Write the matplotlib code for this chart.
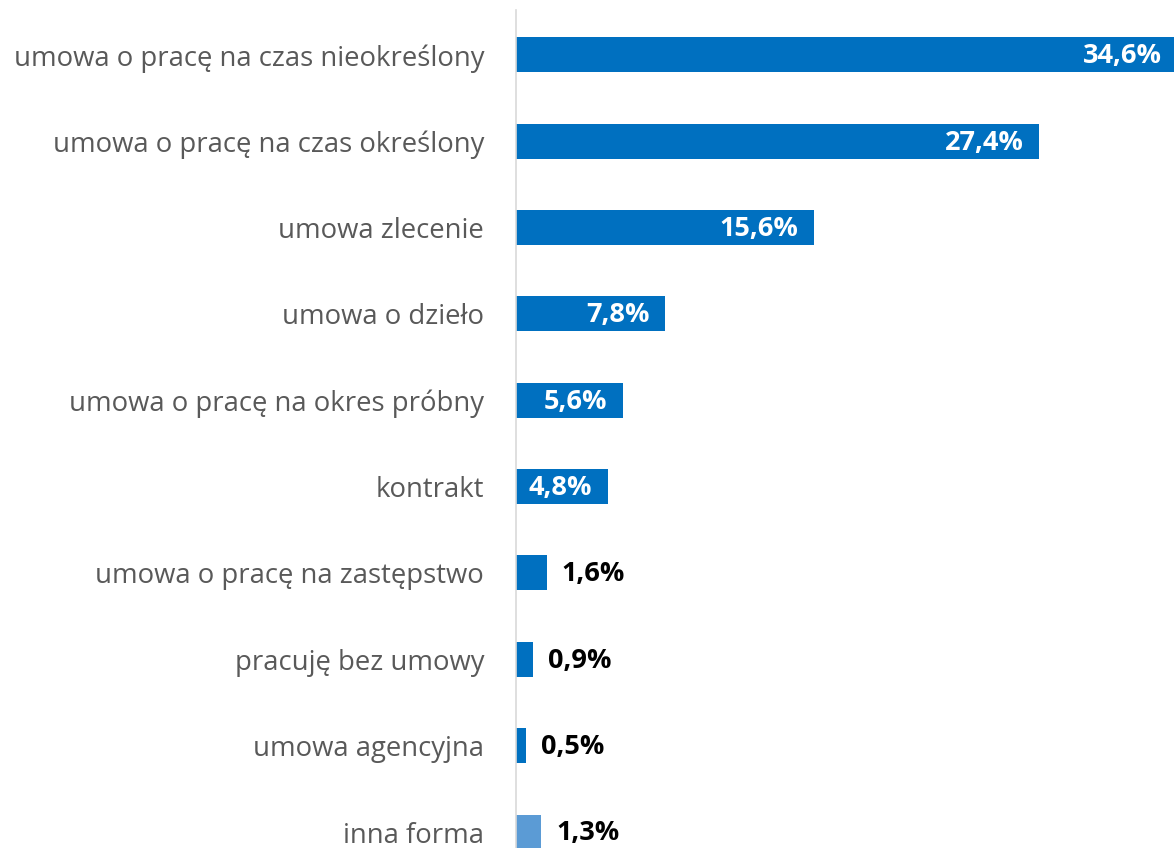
import matplotlib
matplotlib.use("Agg")
import matplotlib.pyplot as plt

categories = [
    "umowa o pracę na czas nieokreślony",
    "umowa o pracę na czas określony",
    "umowa zlecenie",
    "umowa o dzieło",
    "umowa o pracę na okres próbny",
    "kontrakt",
    "umowa o pracę na zastępstwo",
    "pracuję bez umowy",
    "umowa agencyjna",
    "inna forma",
]
values = [34.6, 27.4, 15.6, 7.8, 5.6, 4.8, 1.6, 0.9, 0.5, 1.3]
labels = ["34,6%", "27,4%", "15,6%", "7,8%", "5,6%", "4,8%", "1,6%", "0,9%", "0,5%", "1,3%"]
colors = ["#0070C0"] * 9 + ["#5B9BD5"]

plt.rcParams["font.family"] = ["Open Sans", "DejaVu Sans"]

fig = plt.figure(figsize=(11.74, 8.48), dpi=100)
ax = fig.add_axes([516 / 1174, 0, 1 - 516 / 1174, (848 - 10) / 848])

y = list(range(len(categories)))
ax.barh(y, values, height=0.405, color=colors, zorder=2)
ax.set_xlim(0, 34.45)
ax.set_ylim(9.185, -0.52)

ax.set_yticks(y)
ax.set_yticklabels(categories, fontsize=19.8, color="#595959")
ax.tick_params(axis="y", length=0, pad=23)
ax.set_xticks([])

for s in ["top", "right", "bottom"]:
    ax.spines[s].set_visible(False)
ax.spines["left"].set_color("#D9D9D9")
ax.spines["left"].set_linewidth(1.2)

for yi, v, lab in zip(y, values, labels):
    if v >= 4:
        ax.annotate(lab, (v, yi), xytext=(-11, -1), textcoords="offset points",
                    ha="right", va="center", color="white", fontsize=19.5,
                    fontweight="bold", zorder=3, annotation_clip=False)
    else:
        ax.annotate(lab, (v, yi), xytext=(11, -1), textcoords="offset points",
                    ha="left", va="center", color="black", fontsize=19.5,
                    fontweight="bold", zorder=3, annotation_clip=False)

fig.savefig("out.png", dpi=100)
